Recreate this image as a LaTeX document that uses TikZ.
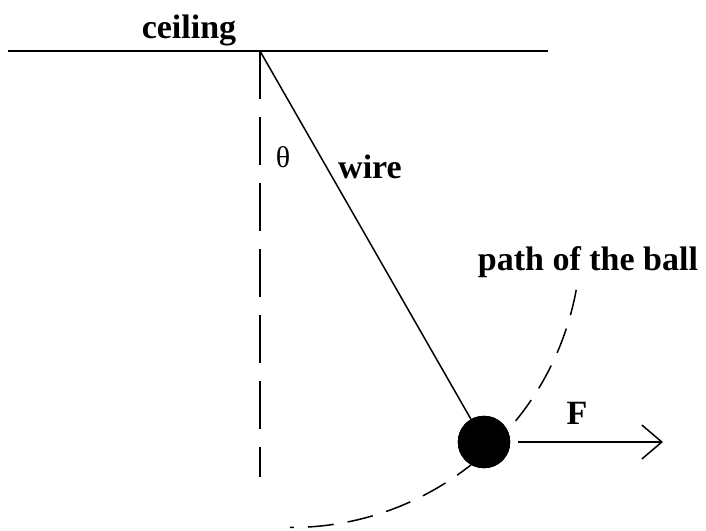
\documentclass[tikz,border=0pt]{standalone}
\usepackage{fontspec}
\setmainfont{Liberation Serif}
\usepackage{tikz}
\usetikzlibrary{arrows.meta, positioning, calc}
\tikzstyle{label} = [inner sep=0pt, anchor=base, font=\fontsize{34}{40}\selectfont\bfseries]
\tikzstyle{ballstyle} = [circle, fill=black, draw=black, minimum size=52pt, inner sep=0pt]
\tikzstyle{rope} = [line width=1.5pt]
\tikzstyle{plumb} = [line width=2pt, dash pattern=on 48pt off 18pt]
\tikzstyle{track} = [line width=1.5pt, dash pattern=on 26pt off 14pt]
\tikzstyle{arrow} = [line width=2pt, -{Straight Barb[length=20pt, width=34pt, line width=1.5pt]}]

\begin{document}
\begin{tikzpicture}[x=1pt, y=-1pt]
        \useasboundingbox (0,0) rectangle (706,530);
        \coordinate (ceilL) at (8,51);
        \coordinate (ceilR) at (548,51);
        \coordinate (pivot) at (260,51);
        \coordinate (vbot) at (260,477);
        \coordinate (arcC) at (291,237.5);
        \coordinate (tip) at (663,442);
        \node (ball) [ballstyle] at (484,442) {};

        \node (ceiling) [label] at (189,38) {ceiling};
        \node (theta) [label, font=\fontsize{30}{36}\selectfont] at (283,167) {θ};
        \node (wire) [label] at (370,178) {wire};
        \node (path) [label] at (588,270) {path of the ball};
        \node (force) [label] at (577,424) {F};

        \draw [line width=2pt] (ceilL) -- (ceilR);
        \draw [plumb] (pivot) -- (vbot);
        \draw [rope] (pivot) -- (ball.center);
        \draw [track] ($(arcC)+(10.4:290)$) arc (10.4:90.2:290);
        \node [ballstyle] at (ball) {};
        \draw [arrow] (ball.east) ++(8,0) -- (tip);
    \end{tikzpicture}
\end{document}
